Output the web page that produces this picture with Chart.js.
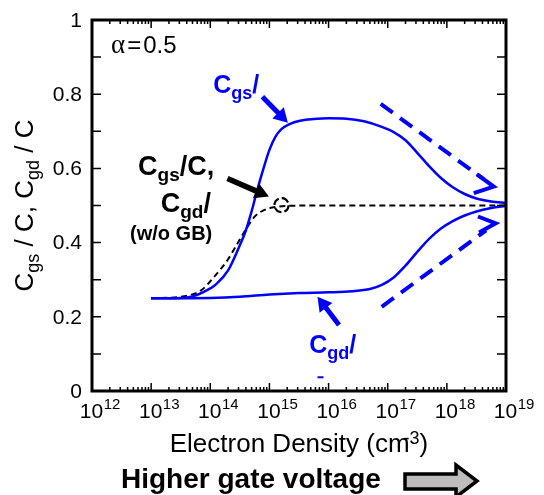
<!DOCTYPE html>
<html><head><meta charset="utf-8">
<script src="https://cdn.jsdelivr.net/npm/chart.js@4"></script>
<style>html,body{margin:0;padding:0;background:#fff}</style>
</head><body>
<canvas id="c" width="544" height="495"></canvas>
<script>
// ---- data ----
const cgsDensity = [1e13, 3.16e13, 5.01e13, 7.94e13, 1.26e14, 2.0e14, 3.16e14, 3.98e14, 5.01e14, 6.31e14, 7.94e14, 1e15, 1.26e15, 1.58e15, 2.24e15, 3.16e15, 5.62e15, 1e16, 2e16, 3.98e16, 7.94e16, 1.26e17, 2e17, 3.16e17, 5.01e17, 7.94e17, 1.26e18, 2e18, 3.16e18, 5.62e18, 1e19];
const cgsRatio   = [0.250, 0.251, 0.255, 0.268, 0.288, 0.325, 0.393, 0.432, 0.485, 0.545, 0.600, 0.650, 0.685, 0.705, 0.720, 0.728, 0.733, 0.735, 0.734, 0.727, 0.712, 0.698, 0.676, 0.642, 0.606, 0.574, 0.549, 0.531, 0.519, 0.511, 0.507];
const cgdDensity = [1e13, 1e14, 3.16e14, 1e15, 3.16e15, 1e16, 2.51e16, 5.01e16, 7.94e16, 1.26e17, 2e17, 3.16e17, 5.01e17, 7.94e17, 1.26e18, 2e18, 3.16e18, 5.62e18, 1e19];
const cgdRatio   = [0.250, 0.251, 0.254, 0.260, 0.264, 0.266, 0.269, 0.275, 0.286, 0.306, 0.338, 0.375, 0.410, 0.438, 0.458, 0.473, 0.484, 0.493, 0.499];
const noGbDensity = [1e13, 3.16e13, 7.08e13, 1.12e14, 2e14, 2.82e14, 3.98e14, 5.62e14, 7.94e14, 1.26e15, 2.51e15, 1e16, 1e19];
const noGbRatio   = [0.250, 0.254, 0.272, 0.305, 0.355, 0.395, 0.435, 0.470, 0.487, 0.496, 0.4995, 0.500, 0.500];
const xTickExponents = ["12", "13", "14", "15", "16", "17", "18", "19"];
const yTickValues = [0, 0.2, 0.4, 0.6, 0.8, 1];
const yTickLabels = ["0", "0.2", "0.4", "0.6", "0.8", "1"];

const toPoints = (xs, ys) => xs.map((x, i) => ({x: x, y: ys[i]}));
const BLUE = '#0000ff';
const FONT = '"Liberation Sans", Arial, sans-serif';

function richWidth(ctx, parts) {
  let w = 0;
  for (const p of parts) { ctx.font = p.f; w += (p.pre || 0) + ctx.measureText(p.t).width; }
  return w;
}
function rich(ctx, x, y, parts) {
  let cx = x;
  for (const p of parts) {
    ctx.font = p.f;
    cx += (p.pre || 0);
    ctx.fillText(p.t, cx, y + (p.dy || 0));
    cx += ctx.measureText(p.t).width;
  }
  return cx;
}
function filledArrow(ctx, x1, y1, x2, y2, lw, hl, hw, color) {
  const a = Math.atan2(y2 - y1, x2 - x1);
  const bx = x2 - hl * Math.cos(a), by = y2 - hl * Math.sin(a);
  ctx.save();
  ctx.strokeStyle = color; ctx.fillStyle = color; ctx.lineWidth = lw; ctx.lineCap = 'butt';
  ctx.beginPath(); ctx.moveTo(x1, y1); ctx.lineTo(bx + 1 * Math.cos(a), by + 1 * Math.sin(a)); ctx.stroke();
  ctx.beginPath();
  ctx.moveTo(x2, y2);
  ctx.lineTo(bx + hw * Math.sin(a), by - hw * Math.cos(a));
  ctx.lineTo(bx - hw * Math.sin(a), by + hw * Math.cos(a));
  ctx.closePath(); ctx.fill();
  ctx.restore();
}
function dashedArrow(ctx, x1, y1, x2, y2, headDirDeg, half, len, color) {
  ctx.save();
  ctx.strokeStyle = color; ctx.lineWidth = 4; ctx.lineCap = 'butt';
  ctx.setLineDash([15, 9]);
  const a = Math.atan2(y2 - y1, x2 - x1);
  ctx.beginPath(); ctx.moveTo(x1, y1); ctx.lineTo(x2 - 12 * Math.cos(a), y2 - 12 * Math.sin(a)); ctx.stroke();
  ctx.setLineDash([]);
  const d = headDirDeg * Math.PI / 180, h = half * Math.PI / 180;
  ctx.lineJoin = 'miter';
  ctx.beginPath();
  ctx.moveTo(x2 - len * Math.cos(d - h), y2 - len * Math.sin(d - h));
  ctx.lineTo(x2, y2);
  ctx.lineTo(x2 - len * Math.cos(d + h), y2 - len * Math.sin(d + h));
  ctx.stroke();
  ctx.restore();
}

const decorations = {
  id: 'decorations',
  afterDraw(chart) {
    const ctx = chart.ctx;
    const xs = chart.scales.x, ys = chart.scales.y;
    const X = v => xs.getPixelForValue(v), Y = v => ys.getPixelForValue(v);
    const {left, right, top, bottom} = chart.chartArea;
    ctx.save();
    ctx.fillStyle = '#000'; ctx.strokeStyle = '#000';

    // ticks (inside, all four sides)
    ctx.lineWidth = 1.5;
    ctx.beginPath();
    for (let e = 12; e <= 18; e++) {
      for (let m = 1; m <= 9; m++) {
        const x = X(m * Math.pow(10, e));
        const len = m === 1 ? 8 : 4;
        ctx.moveTo(x, bottom); ctx.lineTo(x, bottom - len);
        ctx.moveTo(x, top); ctx.lineTo(x, top + len);
      }
    }
    for (let k = 1; k < 10; k++) {
      const y = Y(k / 10);
      ctx.moveTo(left, y); ctx.lineTo(left + 9, y);
      ctx.moveTo(right, y); ctx.lineTo(right - 9, y);
    }
    ctx.stroke();
    // frame
    ctx.lineWidth = 3;
    ctx.strokeRect(left, top, right - left, bottom - top);

    // y tick labels
    ctx.font = '21px ' + FONT; ctx.textAlign = 'right'; ctx.textBaseline = 'middle';
    yTickValues.forEach((v, i) => ctx.fillText(yTickLabels[i], left - 10, Y(v) + 1));
    // x tick labels 10^n
    ctx.textAlign = 'left'; ctx.textBaseline = 'alphabetic';
    xTickExponents.forEach(ex => {
      const x = X(Math.pow(10, +ex));
      ctx.font = '21px ' + FONT;
      const w = ctx.measureText('10').width;
      ctx.fillText('10', x - w / 2 - 0.5, bottom + 27);
      ctx.font = '15px ' + FONT;
      ctx.fillText(ex, x + w / 2, bottom + 18);
    });

    // x-axis title
    const t = [
      {t: 'Electron Density (cm', f: '26px ' + FONT},
      {t: '-3', f: '18px ' + FONT, dy: -8, pre: -6},
      {t: ')', f: '26px ' + FONT}
    ];
    rich(ctx, (left + right) / 2 - richWidth(ctx, t) / 2, bottom + 61, t);

    // y-axis title (rotated)
    const yt = [
      {t: 'C', f: '26px ' + FONT},
      {t: 'gs', f: '18px ' + FONT, dy: 6},
      {t: ' / C, C', f: '26px ' + FONT},
      {t: 'gd', f: '18px ' + FONT, dy: 6},
      {t: ' / C', f: '26px ' + FONT}
    ];
    ctx.save();
    ctx.translate(33, (top + bottom) / 2);
    ctx.rotate(-Math.PI / 2);
    rich(ctx, -richWidth(ctx, yt) / 2, 0, yt);
    ctx.restore();

    // Higher gate voltage
    ctx.font = 'bold 28px ' + FONT;
    ctx.fillText('Higher gate voltage', 121, 488);
    ctx.save();
    ctx.beginPath();
    ctx.moveTo(405, 474); ctx.lineTo(456, 474); ctx.lineTo(456, 465); ctx.lineTo(477, 481);
    ctx.lineTo(456, 497); ctx.lineTo(456, 489); ctx.lineTo(405, 489); ctx.closePath();
    ctx.fillStyle = '#bdbdbd'; ctx.fill();
    ctx.lineWidth = 3.5; ctx.lineJoin = 'miter'; ctx.strokeStyle = '#000'; ctx.stroke();
    ctx.restore();

    // alpha label
    ctx.fillStyle = '#000';
    rich(ctx, X(2.1e12), Y(0.91), [
      {t: 'α', f: '27px "Liberation Serif", "Times New Roman", serif'},
      {t: '=', f: '24px ' + FONT, pre: 2},
      {t: '0.5', f: '24px ' + FONT, pre: 2}
    ]);

    // black annotation (w/o GB)
    const B = 'bold 27px ' + FONT, Bs = 'bold 19px ' + FONT;
    rich(ctx, X(6e12), Y(0.582), [{t: 'C', f: B}, {t: 'gs', f: Bs, dy: 6}, {t: '/C,', f: B}]);
    rich(ctx, X(1.45e13), Y(0.482), [{t: 'C', f: B}, {t: 'gd', f: Bs, dy: 6}, {t: '/', f: B}]);
    ctx.font = 'bold 20px ' + FONT;
    ctx.fillText('(w/o GB)', X(4.4e12), Y(0.407));
    filledArrow(ctx, X(1.95e14), Y(0.573), X(9.8e14), Y(0.524), 5.5, 14, 8, '#000');
    ctx.save();
    ctx.lineWidth = 2.2; ctx.setLineDash([8, 3]);
    ctx.beginPath(); ctx.arc(X(1.6e15), Y(0.501), 7, 0, Math.PI * 2); ctx.stroke();
    ctx.restore();

    // blue labels and arrows
    ctx.fillStyle = BLUE;
    const C = 'bold 25px ' + FONT, Cs = 'bold 18px ' + FONT;
    rich(ctx, X(1.12e14), Y(0.803), [{t: 'C', f: C}, {t: 'gs', f: Cs, dy: 6}, {t: '/', f: C}]);
    rich(ctx, X(4.7e15), Y(0.102), [{t: 'C', f: C}, {t: 'gd', f: Cs, dy: 6}, {t: '/', f: C}]);
    filledArrow(ctx, X(7.6e14), Y(0.793), X(2.05e15), Y(0.723), 5, 14, 8, BLUE);
    filledArrow(ctx, X(1.5e16), Y(0.178), X(6.5e15), Y(0.254), 5, 14, 8, BLUE);
    dashedArrow(ctx, X(7.6e16), Y(0.774), X(6.2e18), Y(0.551), 9, 27, 21, BLUE);
    dashedArrow(ctx, X(7.9e16), Y(0.227), X(6.7e18), Y(0.452), -4, 25, 19, BLUE);
    ctx.strokeStyle = BLUE; ctx.lineWidth = 2;
    ctx.beginPath(); ctx.moveTo(X(6.5e15), Y(0.037)); ctx.lineTo(X(8.2e15), Y(0.037)); ctx.stroke();

    ctx.restore();
  }
};

new Chart(document.getElementById('c'), {
  type: 'line',
  data: {
    datasets: [
      {label: 'Cgs/C', data: toPoints(cgsDensity, cgsRatio), borderColor: BLUE, borderWidth: 2.5, pointRadius: 0, fill: false, cubicInterpolationMode: 'monotone'},
      {label: 'Cgd/C', data: toPoints(cgdDensity, cgdRatio), borderColor: BLUE, borderWidth: 2.5, pointRadius: 0, fill: false, cubicInterpolationMode: 'monotone'},
      {label: 'w/o GB', data: toPoints(noGbDensity, noGbRatio), borderColor: '#000', borderWidth: 2, borderDash: [6, 4], pointRadius: 0, fill: false, cubicInterpolationMode: 'monotone'}
    ]
  },
  options: {
    responsive: false,
    animation: false,
    layout: {padding: {left: 92, right: 38, top: 20, bottom: 104}},
    plugins: {legend: {display: false}, tooltip: {enabled: false}},
    scales: {
      x: {type: 'logarithmic', min: 1e12, max: 1e19,
          grid: {display: false, drawTicks: false}, border: {display: false}, ticks: {display: false}},
      y: {type: 'linear', min: 0, max: 1,
          grid: {display: false, drawTicks: false}, border: {display: false}, ticks: {display: false}}
    }
  },
  plugins: [decorations]
});
</script>
</body></html>
